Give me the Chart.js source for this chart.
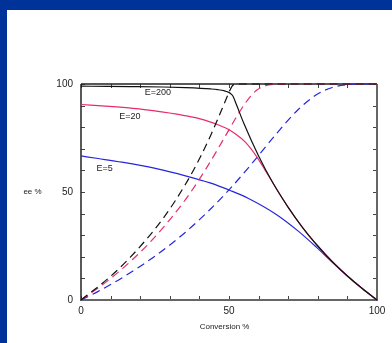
<!DOCTYPE html>
<html lang="en">
<head>
  <meta charset="UTF-8" />
  <title>ee vs Conversion</title>
  <script src="https://cdn.jsdelivr.net/npm/chart.js"></script>
  <style>
    html, body { margin: 0; padding: 0; background: #fff; }
    .page { position: relative; width: 392px; height: 343px; overflow: hidden; background: #fff; }
    .band-top { position: absolute; left: 0; top: 0; width: 392px; height: 10px; background: #003399; }
    .band-left { position: absolute; left: 0; top: 0; width: 7px; height: 343px; background: #003399; }
    canvas { position: absolute; left: 0; top: 0; }
  </style>
</head>
<body>
  <div class="page">
    <div class="band-top"></div>
    <div class="band-left"></div>
    <canvas id="eeChart" width="392" height="343"></canvas>
  </div>

  <script>
    // conversion % and ee %
    const e200Conv = [0, 9.1, 16.6, 27.8, 35.3, 40.4, 43.8, 46.1, 48.3, 50.1, 50.9, 51.4, 52.5, 55, 60, 65, 70, 75, 80, 85, 90, 95, 100];
    const e200Substrate = [0, 9.9, 19.7, 37.9, 53.6, 66.4, 76.2, 83.4, 90.6, 96.5, 98.7, 99.5, 100, 100, 100, 100, 100, 100, 100, 100, 100, 100, 100];
    const e200Product = [99.0, 98.9, 98.8, 98.6, 98.3, 98.0, 97.7, 97.4, 96.9, 96.0, 95.1, 94.2, 90.5, 81.8, 66.7, 53.8, 42.9, 33.3, 25.0, 17.6, 11.1, 5.3, 0];

    const e20Conv = [0, 9.6, 17.6, 24.3, 34.6, 41.8, 48.9, 52.1, 55.6, 59.4, 62.3, 65.0, 70, 75, 80, 85, 90, 95, 100];
    const e20Substrate = [0, 9.5, 19.0, 28.2, 45.2, 59.8, 76.2, 83.8, 91.3, 97.2, 99.2, 99.8, 100, 100, 100, 100, 100, 100, 100];
    const e20Product = [90.5, 89.6, 88.7, 87.7, 85.5, 83.3, 79.6, 77.0, 73.0, 66.3, 59.9, 53.8, 42.9, 33.3, 25.0, 17.6, 11.1, 5.3, 0];

    const e5Conv = [0, 5.8, 13.8, 25.5, 35.3, 43.6, 50.6, 56.6, 66.1, 73.4, 79.5, 84.9, 90.0, 95.0, 100];
    const e5Substrate = [0, 4.0, 10.2, 20.8, 31.4, 41.9, 51.9, 61.3, 77.1, 88.2, 95.0, 98.4, 99.7, 100, 100];
    const e5Product = [66.7, 65.5, 63.8, 60.8, 57.5, 54.2, 50.6, 47.0, 39.5, 31.9, 24.5, 17.5, 11.1, 5.3, 0];

    const xTicks = [0, 50, 100];
    const yTicks = [0, 50, 100];
    const curveNames = ['E=200', 'E=20', 'E=5'];

    const FONT = '"Liberation Sans", Arial, Helvetica, sans-serif';
    const BLACK = '#111111';
    const RED = '#e62e68';
    const BLUE = '#2626dc';

    // where the E= captions sit, in data units
    const captionAt = [
      { x: 26, y: 96, color: '#222' },
      { x: 16.5, y: 85, color: '#222' },
      { x: 8, y: 61, color: '#222' }
    ];

    const pts = (xs, ys) => xs.map((x, i) => ({ x, y: ys[i] }));

    function curve(label, xs, ys, color, dashed) {
      return {
        label,
        data: pts(xs, ys),
        borderColor: color,
        borderWidth: 1.2,
        borderDash: dashed ? [8, 5] : [],
        pointRadius: 0,
        showLine: true,
        fill: false,
        cubicInterpolationMode: 'monotone',
        clip: 4
      };
    }

    const framePlugin = {
      id: 'frame',
      beforeDatasetsDraw(chart) {
        const { ctx, chartArea: a, scales: { x, y } } = chart;
        const line = (x1, y1, x2, y2) => {
          ctx.beginPath(); ctx.moveTo(x1, y1); ctx.lineTo(x2, y2); ctx.stroke();
        };
        ctx.save();
        ctx.strokeStyle = '#444';
        ctx.lineWidth = 1;
        for (let v = 0; v <= 100; v += 10) {
          const px = Math.round(x.getPixelForValue(v)) + 0.5;
          const py = Math.round(y.getPixelForValue(v)) + 0.5;
          line(px, a.bottom, px, a.bottom - 4);
          line(px, a.top, px, a.top + 4);
          line(a.left, py, a.left + 4, py);
          line(a.right, py, a.right - 4, py);
        }
        ctx.lineWidth = 1.5;
        ctx.strokeStyle = '#222';
        line(a.left, a.top, a.right, a.top);
        line(a.left, a.top, a.left, a.bottom + 1);
        ctx.lineWidth = 2;
        ctx.strokeStyle = '#666';
        line(a.left, a.bottom, a.right + 1, a.bottom);
        line(a.right, a.top, a.right, a.bottom);
        ctx.restore();
      },
      afterDraw(chart) {
        const { ctx, chartArea: a, scales: { x, y } } = chart;
        ctx.save();
        ctx.fillStyle = '#222';
        ctx.textBaseline = 'middle';
        ctx.textAlign = 'center';
        ctx.font = '8px ' + FONT;
        ctx.fillText('Conversion %', x.getPixelForValue(48.5), a.bottom + 27);
        ctx.fillText('ee %', 32.5, y.getPixelForValue(50));
        ctx.font = '9px ' + FONT;
        curveNames.forEach((name, i) => {
          const c = captionAt[i];
          ctx.fillStyle = c.color;
          ctx.fillText(name, x.getPixelForValue(c.x), y.getPixelForValue(c.y));
        });
        ctx.restore();
      }
    };

    new Chart(document.getElementById('eeChart'), {
      type: 'scatter',
      data: {
        datasets: [
          curve('E=200 product', e200Conv, e200Product, BLACK, false),
          curve('E=200 substrate', e200Conv, e200Substrate, BLACK, true),
          curve('E=20 product', e20Conv, e20Product, RED, false),
          curve('E=20 substrate', e20Conv, e20Substrate, RED, true),
          curve('E=5 product', e5Conv, e5Product, BLUE, false),
          curve('E=5 substrate', e5Conv, e5Substrate, BLUE, true)
        ]
      },
      options: {
        responsive: false,
        animation: false,
        devicePixelRatio: 1,
        layout: { padding: { top: 84, right: 15, left: 0, bottom: 0 } },
        plugins: { legend: { display: false }, tooltip: { enabled: false } },
        scales: {
          x: {
            type: 'linear',
            min: 0, max: 100,
            grid: { display: false, drawTicks: false },
            border: { display: false },
            afterBuildTicks: s => { s.ticks = xTicks.map(v => ({ value: v })); },
            afterFit: s => { s.height = 43; },
            ticks: { font: { family: FONT, size: 10 }, color: '#222', padding: 5, maxRotation: 0 }
          },
          y: {
            type: 'linear',
            min: 0, max: 100,
            grid: { display: false, drawTicks: false },
            border: { display: false },
            afterBuildTicks: s => { s.ticks = yTicks.map(v => ({ value: v })); },
            afterFit: s => { s.width = 81; },
            ticks: { font: { family: FONT, size: 10 }, color: '#222', padding: 8 }
          }
        }
      },
      plugins: [framePlugin]
    });
  </script>
</body>
</html>
